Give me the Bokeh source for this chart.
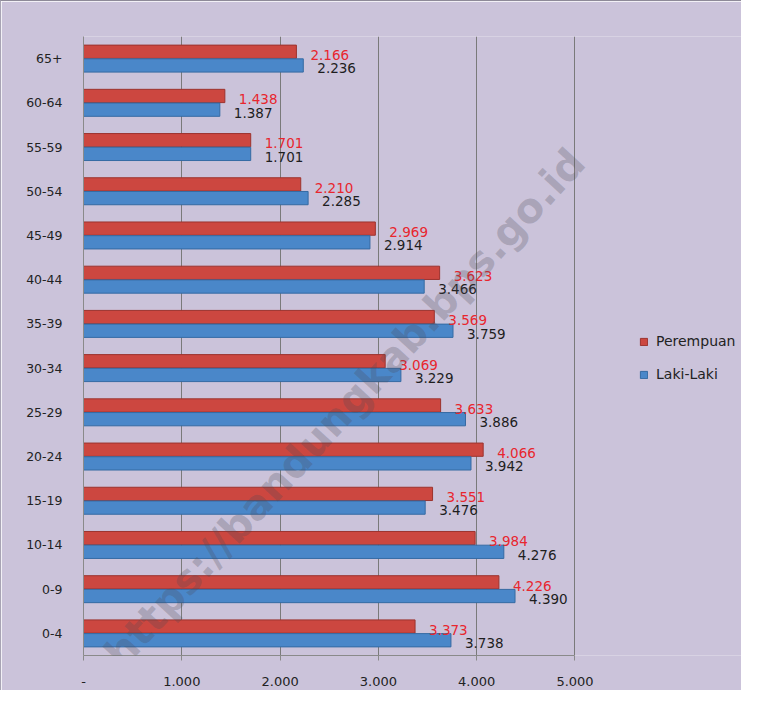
import math
from bokeh.plotting import figure
from bokeh.models import ColumnDataSource, FixedTicker, Legend, LegendItem, Label, FactorRange, Range1d
from bokeh.transform import dodge
from bokeh.core.properties import value
from bokeh.embed import file_html
from bokeh.resources import INLINE

# ---- data ----
age_groups = ["65+", "60-64", "55-59", "50-54", "45-49", "40-44", "35-39",
              "30-34", "25-29", "20-24", "15-19", "10-14", "0-9", "0-4"]
perempuan = [2166, 1438, 1701, 2210, 2969, 3623, 3569,
             3069, 3633, 4066, 3551, 3984, 4226, 3373]
laki_laki = [2236, 1387, 1701, 2285, 2914, 3466, 3759,
             3229, 3886, 3942, 3476, 4276, 4390, 3738]
x_ticks = [0, 1000, 2000, 3000, 4000, 5000]
x_tick_labels = ["-", "1.000", "2.000", "3.000", "4.000", "5.000"]
series_names = ["Perempuan", "Laki-Laki"]
watermark = "https://bandungkab.bps.go.id"


def fmt(v):
    return f"{v:,}".replace(",", ".")


src = ColumnDataSource(dict(
    age=age_groups,
    p=perempuan,
    l=laki_laki,
    p_lbl=[fmt(v) for v in perempuan],
    l_lbl=[fmt(v) for v in laki_laki],
))

BG = "#cbc3da"
RED = "#cc4740"
BLUE = "#4a87c9"
FONT = "DejaVu Sans"

AXIS_MAX = x_ticks[-1]
# frame extends right of the value axis so the legend can sit inside it
FRAME_EXT = AXIS_MAX * 657 / 490

p = figure(width=741, height=690, output_backend="svg", toolbar_location=None,
           y_range=FactorRange(*list(reversed(age_groups)), range_padding=0),
           x_range=Range1d(0, FRAME_EXT),
           min_border_left=82, min_border_right=0, min_border_top=35, min_border_bottom=36)
p.background_fill_color = BG
p.border_fill_color = BG
p.outline_line_color = None
p.styles = {"border-top": "1px solid #8e8a98", "border-left": "1px solid #a8a4b4"}

r_p = p.hbar(y=dodge("age", 0.155, range=p.y_range), right="p", left=0, height=0.3,
             source=src, fill_color=RED, line_color="#9c332e", line_width=1)
r_l = p.hbar(y=dodge("age", -0.155, range=p.y_range), right="l", left=0, height=0.3,
             source=src, fill_color=BLUE, line_color="#356aa3", line_width=1)

p.text(x="p", y=dodge("age", 0.08, range=p.y_range), text="p_lbl", source=src,
       x_offset=14, text_align="left", text_baseline="middle",
       text_font=value(FONT), text_font_size="13.5px", text_color="#e8262e")
p.text(x="l", y=dodge("age", -0.22, range=p.y_range), text="l_lbl", source=src,
       x_offset=14, text_align="left", text_baseline="middle",
       text_font=value(FONT), text_font_size="13.5px", text_color="#1e1e1e")

# axes
p.xaxis.ticker = FixedTicker(ticks=x_ticks)
p.xaxis.bounds = (0, AXIS_MAX)
p.xaxis.major_label_overrides = {t: s for t, s in zip(x_ticks, x_tick_labels)}
p.xaxis.major_label_text_font = FONT
p.xaxis.major_label_text_font_size = "13px"
p.xaxis.major_label_text_color = "#222222"
p.xaxis.major_label_standoff = 16
p.xaxis.axis_line_color = "#8a8a8a"
p.xaxis.major_tick_line_color = "#8a8a8a"
p.xaxis.major_tick_out = 5
p.xaxis.major_tick_in = 0
p.xaxis.minor_tick_line_color = None

p.yaxis.major_label_text_font = FONT
p.yaxis.major_label_text_font_size = "12.5px"
p.yaxis.major_label_text_color = "#222222"
p.yaxis.major_label_standoff = 15
p.yaxis.axis_line_color = "#8a8a8a"
p.yaxis.major_tick_line_color = None

p.xgrid.grid_line_color = "#7a7a7a"
p.xgrid.grid_line_width = 1
p.ygrid.grid_line_color = None

legend = Legend(items=[LegendItem(label=series_names[0], renderers=[r_p]),
                       LegendItem(label=series_names[1], renderers=[r_l])],
                location=(556, 273), orientation="vertical",
                background_fill_alpha=0, border_line_alpha=0,
                glyph_width=9, glyph_height=9, label_standoff=8, spacing=17, padding=0,
                label_text_font=FONT, label_text_font_size="14px", label_text_color="#222222")
p.add_layout(legend, "center")

wm = Label(x=296, y=-0.12, text=watermark, angle=math.radians(47.4),
           text_align="left", text_baseline="middle", text_font=FONT,
           text_font_size="41px", text_font_style="bold",
           text_color="#4a4a55", text_alpha=0.26)
p.add_layout(wm)

open("out.html", "w").write(file_html(p, INLINE))
